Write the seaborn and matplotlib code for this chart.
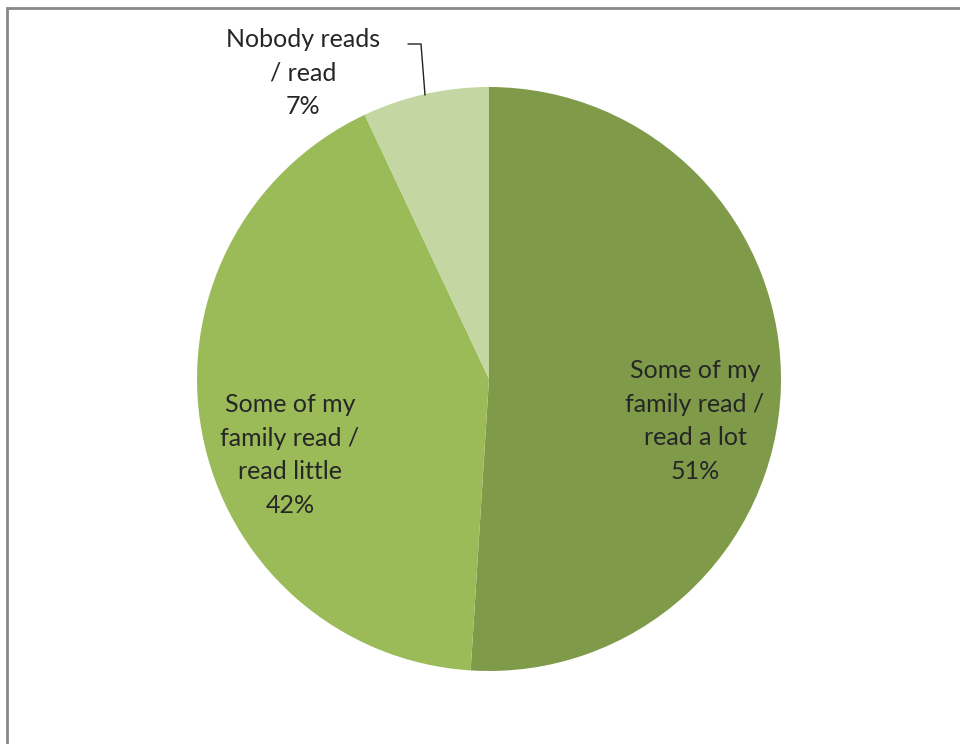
import seaborn as sns
import matplotlib.pyplot as plt
from matplotlib.patches import Rectangle
from matplotlib.lines import Line2D

# data
categories = ['Some of my\nfamily read /\nread a lot',
              'Some of my\nfamily read /\nread little',
              'Nobody reads\n/ read']
shares = [51, 42, 7]
colors = ['#7f9b49', '#9bbb59', '#c4d6a2']

sns.set_style('white')
plt.rcParams['font.family'] = ['Lato', 'DejaVu Sans']

fig = plt.figure(figsize=(9.6, 7.44), dpi=100)
ax = fig.add_axes([0, 0, 1, 1])

# pie centre at pixel (489, 379), radius 292 px
cx, cy, r = 489, 379, 292

ax.pie(shares, colors=colors, startangle=90, counterclock=False, radius=1,
       wedgeprops=dict(linewidth=0), center=(0, 0), frame=False)
ax.set_xlim(-cx / r, (960 - cx) / r)
ax.set_ylim(-(744 - cy) / r, cy / r)
ax.set_aspect('auto')
ax.axis('off')

def px(x, y):
    return (x - cx) / r, (cy - y) / r

label_pos = [px(695, 421), px(290, 455), px(303, 73)]
for lab, val, (x, y) in zip(categories, shares, label_pos):
    ax.text(x, y, f'{lab}\n{val}%', ha='center', va='center', fontsize=18,
            color='#262626', linespacing=1.56)

# leader line for small slice
pts = [px(408, 44), px(421, 44), px(425, 95)]
ax.add_line(Line2D([p[0] for p in pts], [p[1] for p in pts], color='#222222', lw=1))

# chart frame (left and top visible)
fig.add_artist(Rectangle((7 / 960, -0.2), 2, (744 - 8) / 744 + 0.2,
                         transform=fig.transFigure, fill=False,
                         edgecolor='#888888', lw=2))

fig.savefig('out.png', dpi=100)
